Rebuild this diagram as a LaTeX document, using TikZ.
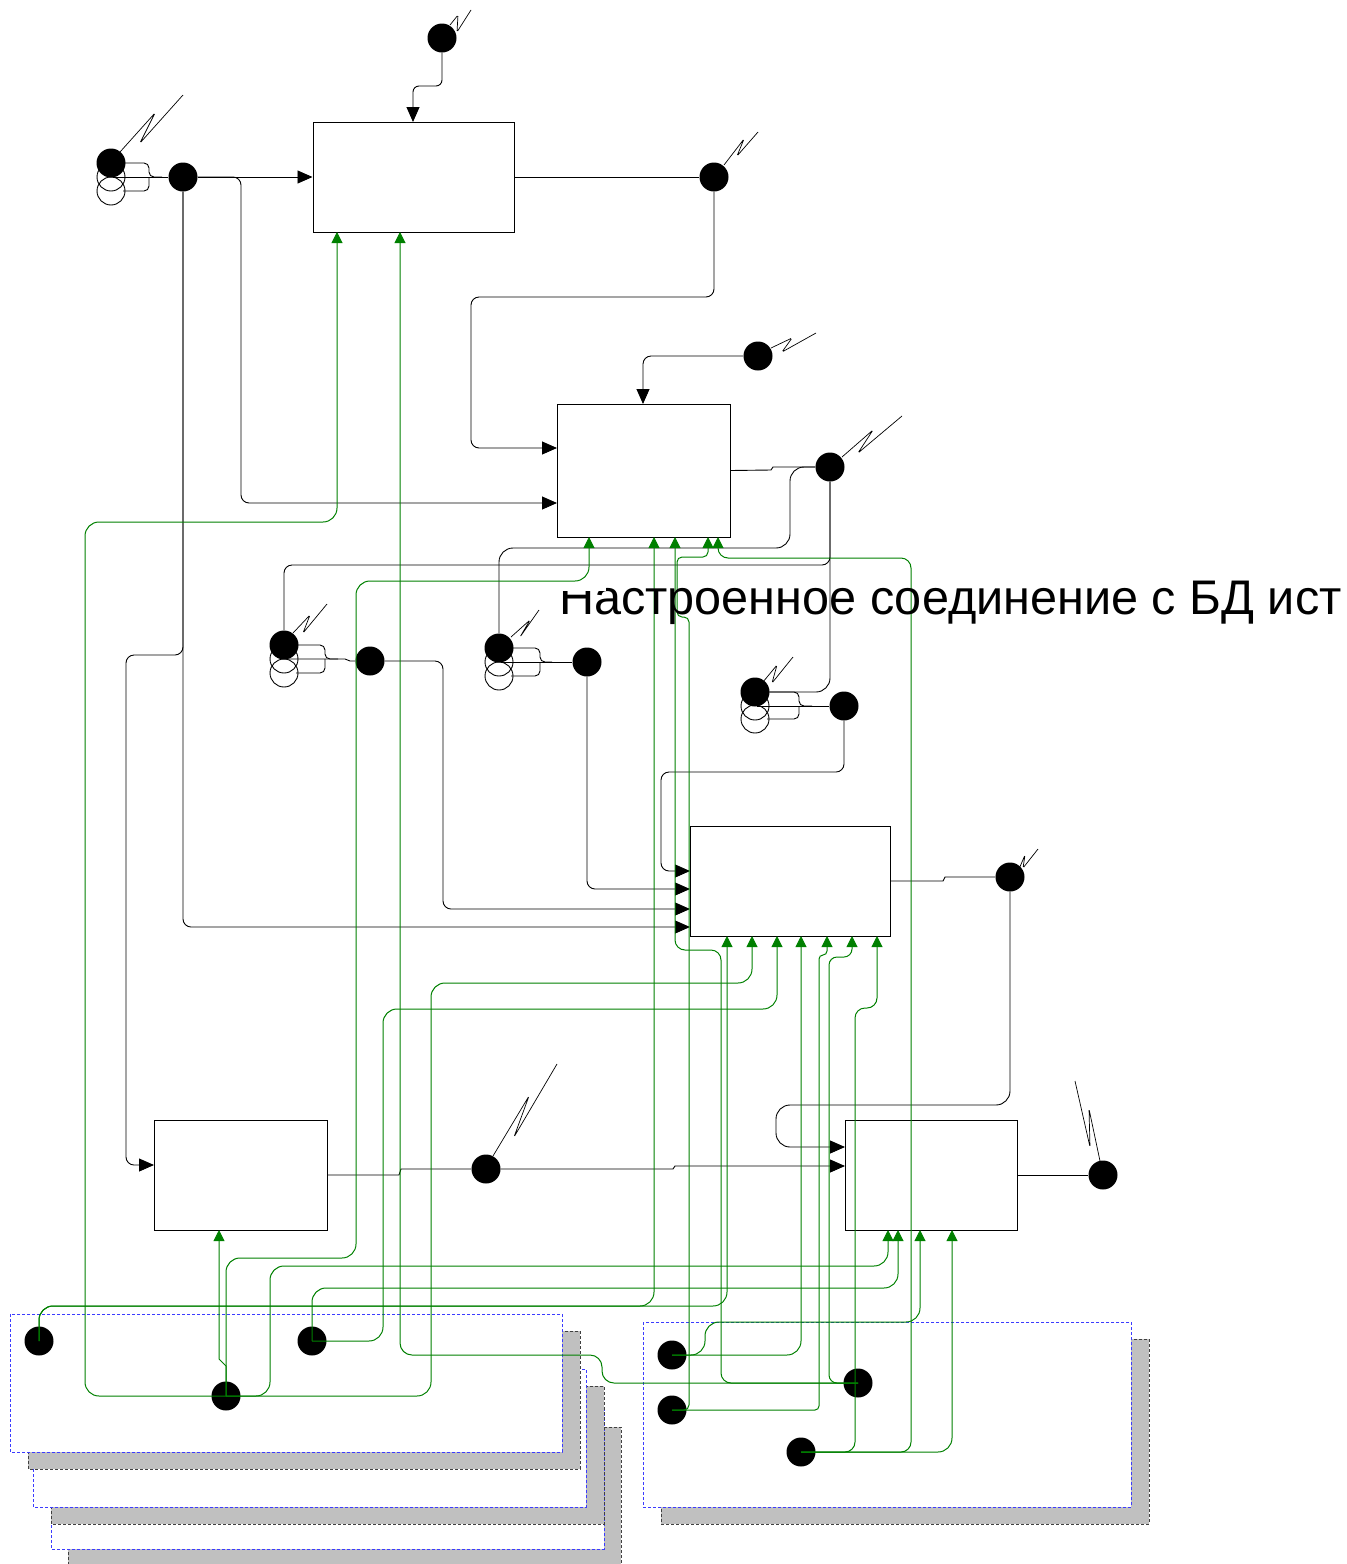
\documentclass[tikz,border=0pt]{standalone}
\usepackage{fontspec}
\setmainfont{Liberation Sans}
\usetikzlibrary{arrows.meta}
\definecolor{gline}{RGB}{0,128,0}
\definecolor{cblue}{RGB}{60,60,255}
\definecolor{cshad}{RGB}{192,192,192}
\begin{document}
\begin{tikzpicture}[x=1pt,y=-1pt,
  box/.style={draw=black,line width=1pt,fill=white,rectangle,inner sep=0pt},
  dot/.style={circle,fill=black,inner sep=0pt,minimum size=29pt},
  ring/.style={circle,draw=black,line width=0.9pt,inner sep=0pt,minimum size=28pt},
  bl/.style={draw=black,line width=0.9pt},
  gl/.style={draw=gline,line width=1pt},
  barr/.style={-{Triangle[length=15pt,width=13pt]}},
  garr/.style={-{Triangle[length=11pt,width=11pt]}},
  sq/.style={draw=black,line width=0.7pt,rounded corners=1.5pt},
  cont/.style={draw=cblue,densely dashed,fill=white,line width=0.9pt},
  shad/.style={draw=black!75,densely dashed,fill=cshad,line width=0.9pt}
]
\useasboundingbox (0,0) rectangle (1347,1564);

% ---------- containers ----------
\filldraw[shad] (68,1427) rectangle (621,1566);
\filldraw[cont] (51,1410) rectangle (604,1549);
\filldraw[shad] (51,1386) rectangle (604,1524);
\filldraw[cont] (33,1369) rectangle (586,1507);
\filldraw[shad] (28,1331) rectangle (580,1469);
\filldraw[cont] (10,1314) rectangle (562,1452);
\filldraw[shad] (661,1339) rectangle (1149,1524);
\filldraw[cont] (643,1322) rectangle (1131,1507);

% ---------- boxes ----------
\node[box,minimum width=201pt,minimum height=110pt] (b1) at (413.5,177) {};
\node[box,minimum width=173pt,minimum height=133pt] (b2) at (643.5,470.5) {};
\node[box,minimum width=200pt,minimum height=110pt] (b3) at (790,881) {};
\node[box,minimum width=173pt,minimum height=110pt] (b4) at (240.5,1175) {};
\node[box,minimum width=172pt,minimum height=110pt] (b5) at (931,1175) {};

% ---------- ports ----------
\coordinate (pb1t) at (413,122);
\coordinate (pb1a) at (337,232);
\coordinate (pb1b) at (400,232);
\coordinate (pb2t) at (643,404);
\coordinate (pb2l1) at (557,448);
\coordinate (pb2l2) at (557,503);
\coordinate (pb2a) at (589,537);
\coordinate (pb2b) at (654,537);
\coordinate (pb2c) at (675,537);
\coordinate (pb2d) at (708,537);
\coordinate (pb2e) at (718,537);
\coordinate (pb3l1) at (690,871);
\coordinate (pb3l2) at (690,889);
\coordinate (pb3l3) at (690,909);
\coordinate (pb3l4) at (690,927);
\coordinate (pb3a) at (727,936);
\coordinate (pb3b) at (752,936);
\coordinate (pb3c) at (777,936);
\coordinate (pb3d) at (801,936);
\coordinate (pb3e) at (827,936);
\coordinate (pb3f) at (852,936);
\coordinate (pb3g) at (877,936);
\coordinate (pb4l) at (154,1165);
\coordinate (pb4b) at (219,1230);
\coordinate (pb5l1) at (845,1147);
\coordinate (pb5l2) at (845,1166);
\coordinate (pb5a) at (888,1230);
\coordinate (pb5b) at (898,1230);
\coordinate (pb5c) at (920,1230);
\coordinate (pb5d) at (952,1230);

% ---------- rings and dots ----------
\node[ring] (dlo2) at (111,191) {};
\node[ring] (dlo1) at (111,177) {};
\node[dot] (dl) at (111,163) {};
\node[dot] (dl2) at (183,177) {};
\node[dot] (dtop) at (442,38) {};
\node[dot] (dout1) at (714,177) {};
\node[dot] (db2t) at (758,356) {};
\node[dot] (db2o) at (830,467) {};
\node[ring] (dm1o2) at (284,673) {};
\node[ring] (dm1o1) at (284,659) {};
\node[dot] (dm1) at (284,645) {};
\node[dot] (dm1b) at (370,661) {};
\node[ring] (dm2o2) at (499,676) {};
\node[ring] (dm2o1) at (499,662) {};
\node[dot] (dm2) at (499,648) {};
\node[dot] (dm2b) at (587,662) {};
\node[ring] (dm3o2) at (755,719) {};
\node[ring] (dm3o1) at (755,706) {};
\node[dot] (dm3) at (755,692) {};
\node[dot] (dm3b) at (844,706) {};
\node[dot] (db3o) at (1010,877) {};
\node[dot] (db4o) at (486,1169) {};
\node[dot] (db5o) at (1103,1175) {};
\node[dot] (l1) at (39,1341) {};
\node[dot] (l2) at (312,1341) {};
\node[dot] (l3) at (226,1396) {};
\node[dot] (r1) at (672,1355) {};
\node[dot] (r2) at (672,1410) {};
\node[dot] (r3) at (858,1383) {};
\node[dot] (r4) at (801,1452) {};

% ---------- squiggles ----------
\draw[sq] (dl) ++(9,-11) -- (155,113) -- (140,143) -- (183,95);
\draw[sq] (dtop) ++(8,-13) -- (458,15) -- (457,32) -- (471,10);
\draw[sq] (dout1) ++(10,-12) -- (744,139) -- (737,156) -- (758,132);
\draw[sq] (db2t) ++(13,-8) -- (792,338) -- (782,352) -- (816,333);
\draw[sq] (db2o) ++(12,-10) -- (873,430) -- (858,453) -- (902,416);
\draw[sq] (dm1) ++(9,-12) -- (310,615) -- (303,633) -- (327,604);
\draw[sq] (dm2) ++(12,-11) -- (530,620) -- (520,637) -- (539,610);
\draw[sq] (dm3) ++(8,-10) -- (777,665) -- (772,683) -- (793,657);
\draw[sq] (db3o) ++(9,-8) -- (1025,855) -- (1023,868) -- (1038,849);
\draw[sq] (db4o) ++(7,-13) -- (529,1096) -- (514,1137) -- (557,1064);
\draw[sq] (db5o) ++(-3,-14) -- (1089,1109) -- (1090,1147) -- (1075,1081);

% ---------- bundles ----------
\draw[bl,rounded corners=5pt] (125,163) -- (149,163) -- (149,177) -- (162,177);
\draw[bl,rounded corners=5pt] (123,191) -- (149,191) -- (149,177);
\draw[bl] (113,177) -- (dl2);
\draw[bl,rounded corners=5pt] (298,645) -- (325,645) -- (325,659) -- (338,659);
\draw[bl,rounded corners=5pt] (296,673) -- (325,673) -- (325,659);
\draw[bl] (286,659) -- (345,659) -- (350,661) -- (dm1b);
\draw[bl,rounded corners=5pt] (513,648) -- (540,648) -- (540,662) -- (552,662);
\draw[bl,rounded corners=5pt] (511,676) -- (540,676) -- (540,662);
\draw[bl] (501,662) -- (dm2b);
\draw[bl,rounded corners=5pt] (769,692) -- (799,692) -- (799,706) -- (812,706);
\draw[bl,rounded corners=5pt] (767,719) -- (799,719) -- (799,706);
\draw[bl] (757,706) -- (dm3b);

% ---------- black connectors ----------
\draw[bl,barr,rounded corners=6pt] (dtop) -- (442,86) -- (413,86) -- (pb1t);
\draw[bl,barr] (dl2) -- (b1.west);
\draw[bl,barr,rounded corners=8pt] (dl2) -- (241,177) -- (241,503) -- (pb2l2);
\draw[bl,barr,rounded corners=8pt] (dl2) -- (183,655) -- (126,655) -- (126,1165) -- (pb4l);
\draw[bl,barr,rounded corners=8pt] (dl2) -- (183,927) -- (pb3l4);
\draw[bl] (b1.east) -- (dout1);
\draw[bl,barr,rounded corners=8pt] (dout1) -- (714,297) -- (471,297) -- (471,448) -- (pb2l1);
\draw[bl,barr,rounded corners=8pt] (db2t) -- (643,356) -- (pb2t);
\draw[bl] (b2.east) -- (771,470) -- (773,467) -- (db2o);
\draw[bl,rounded corners=14pt] (db2o) -- (790,467) -- (790,548) -- (499,548) -- (dm2);
\draw[bl,rounded corners=8pt] (db2o) -- (830,565) -- (284,565) -- (dm1);
\draw[bl,rounded corners=14pt] (db2o) -- (830,692) -- (dm3);
\draw[bl,barr,rounded corners=8pt] (dm1b) -- (443,661) -- (443,909) -- (pb3l3);
\draw[bl,barr,rounded corners=8pt] (dm2b) -- (587,889) -- (pb3l2);
\draw[bl,barr,rounded corners=8pt] (dm3b) -- (844,772) -- (661,772) -- (661,871) -- (pb3l1);
\draw[bl] (b3.east) -- (943,881) -- (945,877) -- (db3o);
\draw[bl,barr,rounded corners=14pt] (db3o) -- (1010,1105) -- (776,1105) -- (776,1147) -- (pb5l1);
\draw[bl] (b4.east) -- (399,1175) -- (401,1169) -- (db4o);
\draw[bl,barr] (db4o) -- (673,1169) -- (675,1166) -- (pb5l2);
\draw[bl] (b5.east) -- (db5o);

% ---------- green connectors ----------
\draw[gl,garr,rounded corners=14pt] (l1.center) -- (39,1306) -- (654,1306) -- (pb2b);
\draw[gl,garr,rounded corners=14pt] (l1.center) -- (39,1306) -- (727,1306) -- (pb3a);
\draw[gl,garr,rounded corners=14pt] (l2.center) -- (383,1341) -- (383,1009) -- (777,1009) -- (pb3c);
\draw[gl,garr,rounded corners=14pt] (l2.center) -- (312,1288) -- (898,1288) -- (pb5b);
\draw[gl,garr,rounded corners=14pt] (l3.center) -- (270,1396) -- (270,1266) -- (888,1266) -- (pb5a);
\draw[gl,garr,rounded corners=14pt] (l3.center) -- (226,1258) -- (356,1258) -- (356,581) -- (589,581) -- (pb2a);
\draw[gl,garr] (l3.center) -- (226,1366) -- (219,1359) -- (pb4b);
\draw[gl,garr,rounded corners=14pt] (l3.center) -- (85,1396) -- (85,522) -- (337,522) -- (pb1a);
\draw[gl,garr,rounded corners=14pt] (l3.center) -- (431,1396) -- (431,983) -- (752,983) -- (pb3b);
\draw[gl,garr,rounded corners=12pt] (r3.center) -- (602,1383) -- (602,1355) -- (400,1355) -- (pb1b);
\draw[gl,garr,rounded corners=10pt] (r3.center) -- (721,1383) -- (721,950) -- (675,950) -- (pb2c);
\draw[gl,garr,rounded corners=5pt] (r2.center) -- (689,1410) -- (689,617) -- (677,617) -- (677,557) -- (708,557) -- (pb2d);
\draw[gl,garr,rounded corners=4pt] (r2.center) -- (819,1410) -- (819,955) -- (827,955) -- (pb3e);
\draw[gl,garr,rounded corners=8pt] (r3.center) -- (829,1383) -- (829,957) -- (852,957) -- (pb3f);
\draw[gl,garr,rounded corners=14pt] (r1.center) -- (801,1355) -- (pb3d);
\draw[gl,garr,rounded corners=14pt] (r1.center) -- (705,1355) -- (705,1322) -- (920,1322) -- (pb5c);
\draw[gl,garr,rounded corners=10pt] (r4.center) -- (855,1452) -- (855,1008) -- (877,1008) -- (pb3g);
\draw[gl,garr,rounded corners=10pt] (r4.center) -- (911,1452) -- (911,558) -- (718,558) -- (pb2e);
\draw[gl,garr,rounded corners=14pt] (r4.center) -- (952,1452) -- (pb5d);

% ---------- label ----------
\begin{scope}
\clip (540,591) rectangle (606,640) (606,560) rectangle (1347,640);
\node[anchor=base west,inner sep=0pt,font=\fontsize{48.6pt}{50pt}\selectfont] (lbl) at (559,614) {Настроенное соединение с БД ист};
\end{scope}
\end{tikzpicture}
\end{document}
